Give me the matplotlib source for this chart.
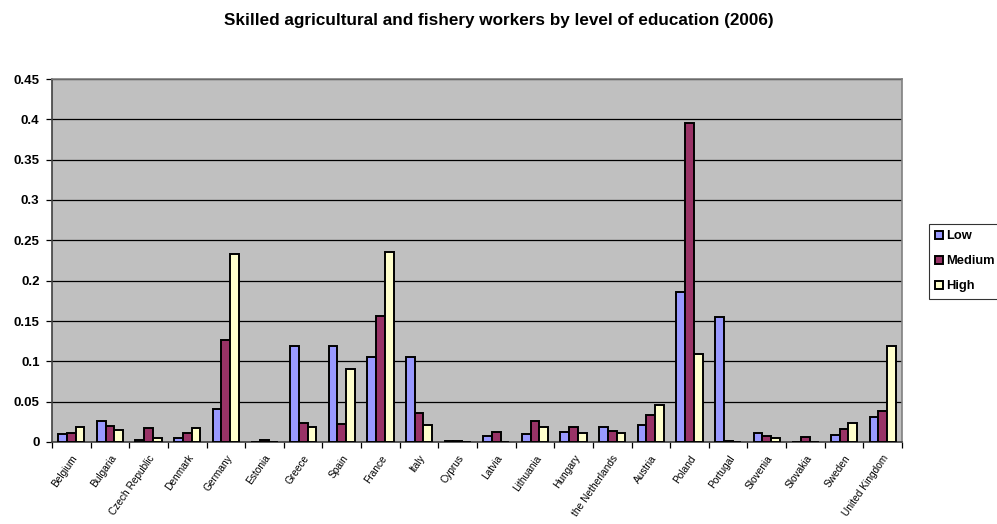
import matplotlib
matplotlib.use("Agg")
import matplotlib.pyplot as plt
import numpy as np

plt.rcParams["font.family"] = ["Liberation Sans", "DejaVu Sans"]

countries = ["Belgium", "Bulgaria", "Czech Republic", "Denmark", "Germany", "Estonia",
             "Greece", "Spain", "France", "Italy", "Cyprus", "Latvia", "Lithuania",
             "Hungary", "the Netherlands", "Austria", "Poland", "Portugal", "Slovenia",
             "Slovakia", "Sweden", "United Kingdom"]
low = [0.010, 0.026, 0.003, 0.0045, 0.041, 0.0, 0.119, 0.119, 0.105, 0.105, 0.001,
       0.0074, 0.010, 0.012, 0.019, 0.021, 0.186, 0.155, 0.011, 0.0006, 0.009, 0.031]
medium = [0.011, 0.020, 0.017, 0.0115, 0.127, 0.002, 0.024, 0.022, 0.156, 0.036, 0.001,
          0.012, 0.026, 0.018, 0.014, 0.033, 0.396, 0.001, 0.008, 0.006, 0.016, 0.039]
high = [0.019, 0.0145, 0.005, 0.017, 0.233, 0.0, 0.019, 0.090, 0.236, 0.021, 0.0,
        0.0, 0.019, 0.011, 0.011, 0.046, 0.1095, 0.0, 0.0045, 0.0, 0.0235, 0.119]
series = ["Low", "Medium", "High"]
colors = ["#9999FF", "#993366", "#FFFFCC"]

fig = plt.figure(figsize=(9.97, 5.24), dpi=100)
ax = fig.add_axes([52 / 997, 1 - 442 / 524, 850 / 997, 363 / 524])
ax.set_facecolor("#C0C0C0")

x = np.arange(len(countries))
w = 0.227
for i, (vals, name, col) in enumerate(zip([low, medium, high], series, colors)):
    ax.bar(x + (i - 1) * w, vals, width=w, color=col, edgecolor="black",
           linewidth=1.4, label=name, zorder=3)

ax.set_xlim(-0.5, len(countries) - 0.5)
ax.set_ylim(0, 0.45)
yt = np.arange(0, 0.451, 0.05)
ax.set_yticks(yt)
ax.set_yticklabels(["0"] + [f"{v:g}" for v in yt[1:]], fontsize=9.5, fontweight="bold")
ax.yaxis.grid(True, color="black", linewidth=0.9, zorder=1)
ax.set_axisbelow(True)

ax.set_xticks(x)
ax.set_xticklabels(countries, rotation=55, ha="right", rotation_mode="anchor", fontsize=7.3)
ax.set_xticks(np.arange(-0.5, len(countries), 1), minor=True)
ax.tick_params(axis="x", which="major", length=0, pad=8)
ax.tick_params(axis="x", which="minor", length=4, width=0.9, direction="out")
ax.tick_params(axis="y", length=4, width=0.9, direction="out", pad=5)

for s in ["top", "right"]:
    ax.spines[s].set_color("#808080")
    ax.spines[s].set_linewidth(1.2)
for s in ["left", "bottom"]:
    ax.spines[s].set_color("#404040")
    ax.spines[s].set_linewidth(1.2)

fig.text(0.5, 1 - 20 / 524, "Skilled agricultural and fishery workers by level of education (2006)",
         ha="center", va="center", fontsize=12.3, fontweight="bold")

leg = fig.legend(loc="upper left", bbox_to_anchor=(929 / 997, 1 - 224 / 524),
                 prop={"size": 9.3, "weight": "bold"}, fancybox=False, frameon=True,
                 handlelength=0.6, handleheight=0.6, handletextpad=0.2,
                 borderpad=0.5, labelspacing=1.0, borderaxespad=0)
leg.get_frame().set_edgecolor("black")
leg.get_frame().set_linewidth(0.8)

fig.savefig("out.png", dpi=100)
